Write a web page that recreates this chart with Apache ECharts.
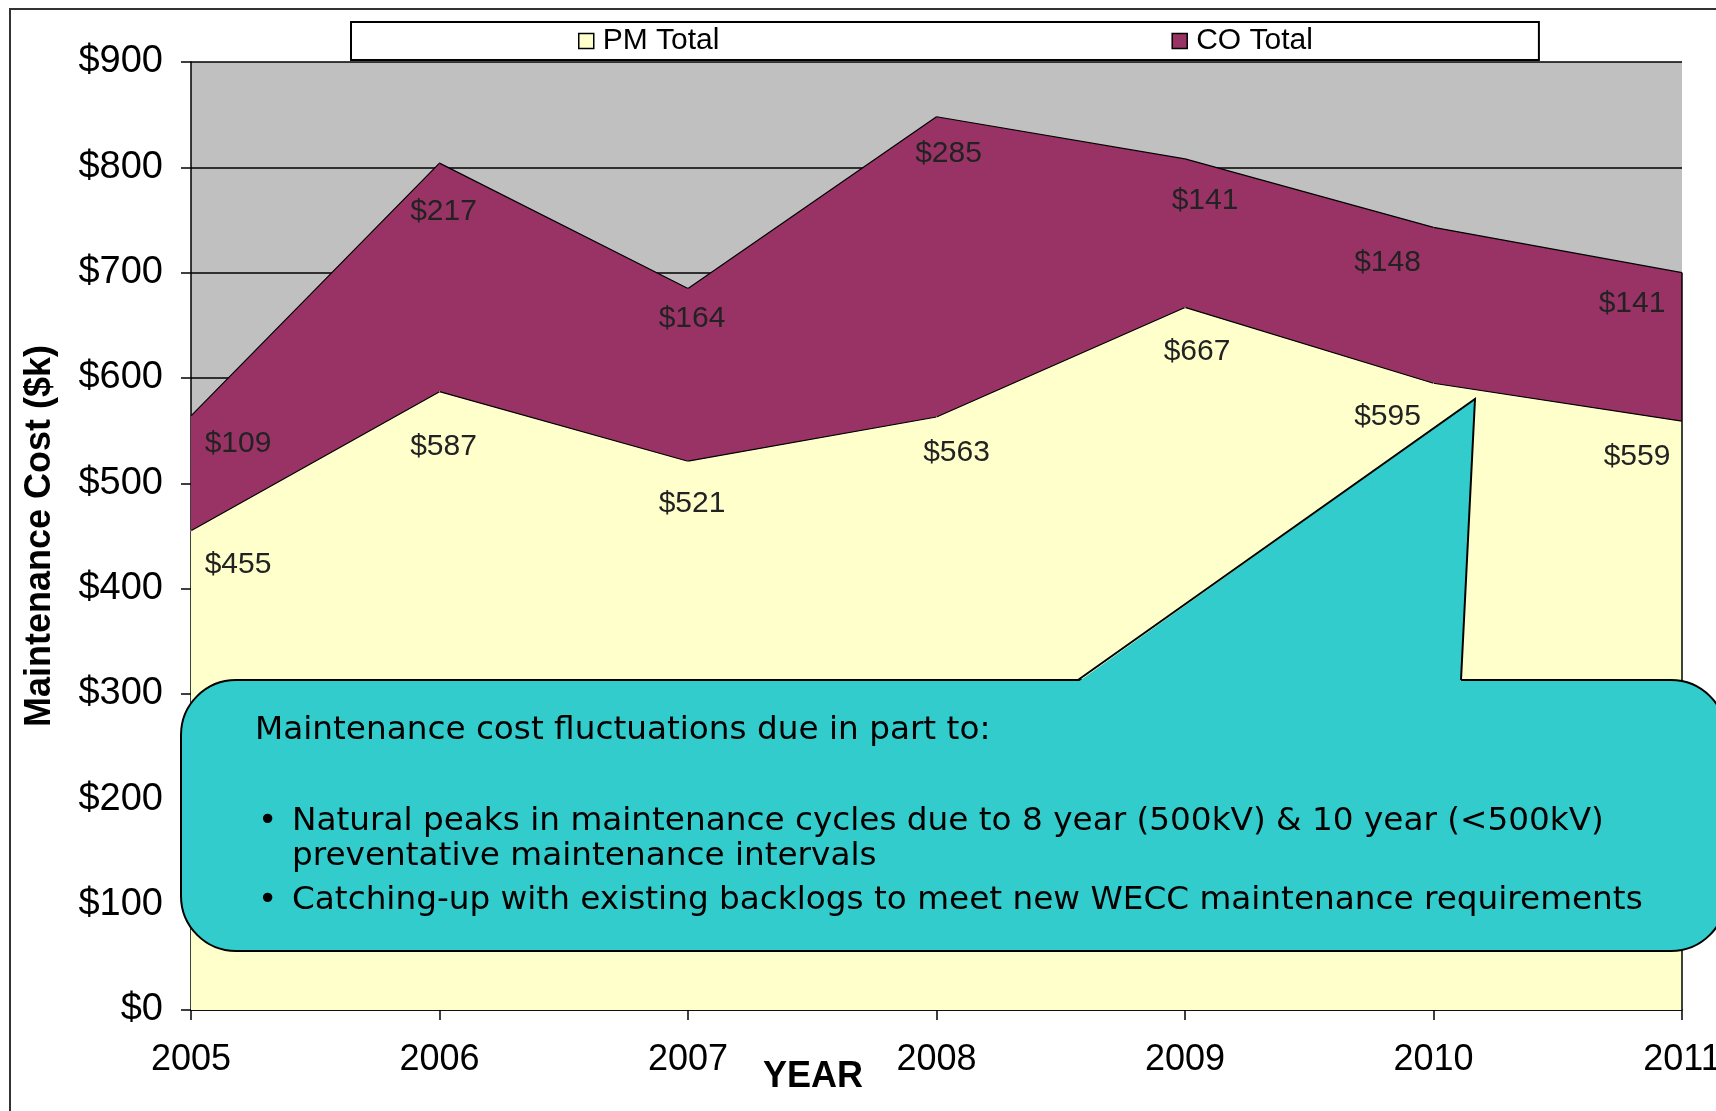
<!DOCTYPE html>
<html>
<head>
<meta charset="utf-8">
<script src="https://cdn.jsdelivr.net/npm/echarts@6/dist/echarts.min.js"></script>
<style>
  html, body { margin: 0; padding: 0; background: #fff; }
  #main { width: 1716px; height: 1111px; }
</style>
</head>
<body>
<div id="main"></div>
<script>
var years = ['2005', '2006', '2007', '2008', '2009', '2010', '2011'];
var pmTotal = [455, 587, 521, 563, 667, 595, 559];
var coTotal = [109, 217, 164, 285, 141, 148, 141];
var yTicks = [0, 100, 200, 300, 400, 500, 600, 700, 800, 900];

// label nudges (px)
var pmLabelDx = [47, 4, 4, 20, 12, -46, -45];
var pmLabelDy = [34, 55, 43, 36, 44, 33, 36];
var coLabelDx = [47, 4, 4, 12, 20, -46, -50];
var coLabelDy = [28, 49, 30, 37, 42, 35, 31];

var chart = echarts.init(document.getElementById('main'));

function withLabels(values, dx, dy) {
    return values.map(function (v, i) {
        return { value: v, label: { offset: [dx[i], dy[i]] } };
    });
}

var labelStyle = {
    show: true,
    position: 'inside',
    fontFamily: 'Liberation Sans',
    fontSize: 30,
    color: '#222',
    formatter: function (p) { return '$' + p.value; }
};

var lastIdx = years.length - 1;
var calloutFont = '32.7px "DejaVu Sans"';

var option = {
    animation: false,
    backgroundColor: '#fff',
    legend: {
        left: 351,
        top: 22,
        padding: [4, 226, 4, 227],
        itemGap: 452,
        itemWidth: 15,
        itemHeight: 15,
        backgroundColor: '#fff',
        borderColor: '#000',
        borderWidth: 2,
        borderRadius: 0,
        textStyle: { fontFamily: 'Liberation Sans', fontSize: 30, color: '#000', padding: [0, 0, 0, 4] },
        data: [
            { name: 'PM Total', icon: 'rect', itemStyle: { color: '#FFFFCC', borderColor: '#000', borderWidth: 1.5 } },
            { name: 'CO Total', icon: 'rect', itemStyle: { color: '#993366', borderColor: '#000', borderWidth: 1.5 } }
        ]
    },
    grid: {
        left: 191,
        right: 34,
        top: 62,
        bottom: 101,
        outerBoundsMode: 'none',
        containLabel: false,
        show: true,
        backgroundColor: '#C0C0C0',
        borderWidth: 0
    },
    xAxis: {
        type: 'category',
        boundaryGap: false,
        data: years,
        axisLine: { lineStyle: { color: '#000', width: 1.5 } },
        axisTick: { show: true, length: 10, alignWithLabel: true, lineStyle: { color: '#000', width: 1.5 } },
        axisLabel: { fontFamily: 'Liberation Sans', fontSize: 36, color: '#000', margin: 32 },
        splitLine: { show: false }
    },
    yAxis: {
        type: 'value',
        min: yTicks[0],
        max: yTicks[yTicks.length - 1],
        interval: 100,
        name: 'Maintenance Cost ($k)',
        nameLocation: 'middle',
        nameGap: 133,
        nameTextStyle: { fontFamily: 'Liberation Sans', fontSize: 36, fontWeight: 'bold', color: '#000' },
        axisLine: { show: true, lineStyle: { color: '#000', width: 1.5 } },
        axisTick: { show: true, length: 10, lineStyle: { color: '#000', width: 1.5 } },
        axisLabel: {
            fontFamily: 'Liberation Sans', fontSize: 38, color: '#000', margin: 28,
            formatter: function (v) { return '$' + v; }
        },
        splitLine: { show: true, lineStyle: { color: '#000', width: 1.5 } }
    },
    series: [
        {
            name: 'PM Total',
            type: 'line',
            stack: 'total',
            symbol: 'circle',
            symbolSize: 1,
            itemStyle: { color: '#FFFFCC' },
            lineStyle: { color: '#000', width: 1.2 },
            areaStyle: { color: '#FFFFCC', opacity: 1 },
            label: labelStyle,
            data: withLabels(pmTotal, pmLabelDx, pmLabelDy)
        },
        {
            name: 'CO Total',
            type: 'line',
            stack: 'total',
            symbol: 'circle',
            symbolSize: 1,
            itemStyle: { color: '#993366' },
            lineStyle: { color: '#000', width: 1.2 },
            areaStyle: { color: '#993366', opacity: 1 },
            label: labelStyle,
            data: withLabels(coTotal, coLabelDx, coLabelDy),
            markLine: {
                silent: true,
                symbol: 'none',
                label: { show: false },
                lineStyle: { color: '#000', width: 1.5, type: 'solid' },
                data: [[
                    { coord: [years[lastIdx], 0] },
                    { coord: [years[lastIdx], pmTotal[lastIdx] + coTotal[lastIdx]] }
                ]]
            }
        }
    ],
    graphic: [
        // outer frame
        {
            type: 'rect', silent: true, z: 1,
            shape: { x: 10, y: 9, width: 1720, height: 1120 },
            style: { fill: null, stroke: '#333', lineWidth: 2 }
        },
        {
            type: 'text', z: 10,
            style: {
                text: 'YEAR', x: 813, y: 1077, align: 'center', verticalAlign: 'middle',
                font: 'bold 36px "Liberation Sans"', fill: '#000'
            }
        },
        // callout box
        {
            type: 'rect', z: 20,
            shape: { x: 181, y: 680, width: 1545, height: 271, r: 55 },
            style: { fill: '#33CCCC', stroke: '#000', lineWidth: 2 }
        },
        {
            type: 'polygon', z: 21,
            shape: { points: [[1078, 682], [1475, 399], [1461, 682]] },
            style: { fill: '#33CCCC', stroke: null }
        },
        {
            type: 'polyline', z: 22,
            shape: { points: [[1078, 680], [1475, 399], [1461, 680]] },
            style: { fill: null, stroke: '#000', lineWidth: 2 }
        },
        {
            type: 'text', z: 23,
            style: {
                text: 'Maintenance cost fluctuations due in part to:', x: 255, y: 731,
                verticalAlign: 'middle', font: calloutFont, fill: '#000'
            }
        },
        {
            type: 'text', z: 23,
            style: { text: '•', x: 258, y: 822, verticalAlign: 'middle', font: calloutFont, fill: '#000' }
        },
        {
            type: 'text', z: 23,
            style: {
                text: 'Natural peaks in maintenance cycles due to 8 year (500kV) & 10 year (<500kV)', x: 292, y: 822,
                verticalAlign: 'middle', font: calloutFont, fill: '#000'
            }
        },
        {
            type: 'text', z: 23,
            style: {
                text: 'preventative maintenance intervals', x: 292, y: 857,
                verticalAlign: 'middle', font: calloutFont, fill: '#000'
            }
        },
        {
            type: 'text', z: 23,
            style: { text: '•', x: 258, y: 901, verticalAlign: 'middle', font: calloutFont, fill: '#000' }
        },
        {
            type: 'text', z: 23,
            style: {
                text: 'Catching-up with existing backlogs to meet new WECC maintenance requirements', x: 292, y: 901,
                verticalAlign: 'middle', font: calloutFont, fill: '#000'
            }
        }
    ]
};

chart.setOption(option);
</script>
</body>
</html>
